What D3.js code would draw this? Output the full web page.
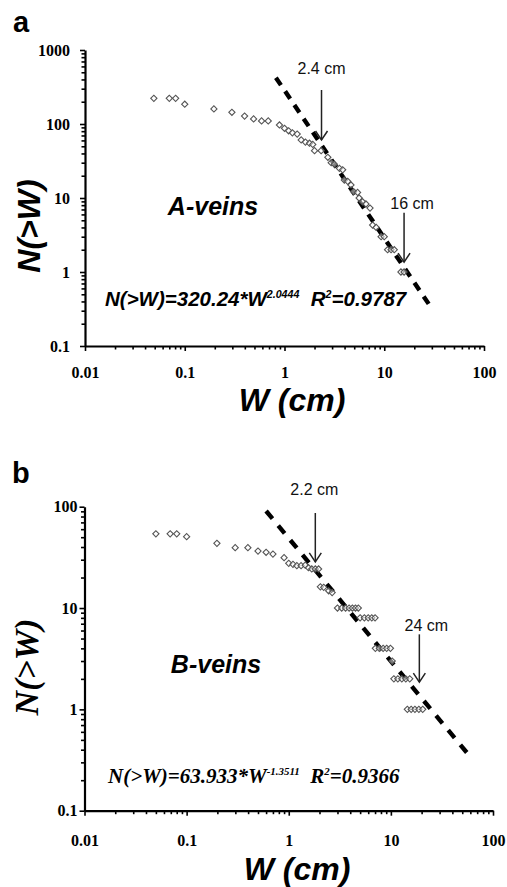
<!DOCTYPE html>
<html>
<head>
<meta charset="utf-8">
<script src="https://cdn.jsdelivr.net/npm/d3@7"></script>
<style>
  body { margin: 0; background: #fff; }
  .sans { font-family: 'Liberation Sans', Arial, sans-serif; }
  .serif { font-family: 'Liberation Serif', 'Times New Roman', serif; }
</style>
</head>
<body>
<div id="chart"></div>
<script>
// panel a: A-veins, cumulative count N(>W) against width W (cm)
const veinsA = [
  [0.049, 222], [0.07, 222], [0.081, 222], [0.1, 185], [0.196, 160],
  [0.297, 144], [0.398, 128], [0.49, 117], [0.589, 110], [0.687, 110],
  [0.89, 97], [1.0, 87.5], [1.1, 81], [1.2, 76], [1.34, 73], [1.47, 61],
  [1.62, 57], [1.78, 55], [1.92, 53], [2.0, 43.6], [2.33, 43.6],
  [2.72, 35.5], [2.94, 30], [3.16, 28.6], [3.55, 25.2], [3.83, 24],
  [3.98, 17.5], [4.3, 16.8], [4.64, 15], [4.93, 12.2], [5.4, 11.9],
  [5.6, 10], [6.05, 8.9], [6.55, 8.3], [7.2, 7.3], [7.65, 4.3], [8.3, 4],
  [9.3, 3], [10, 3], [10.8, 2], [11.7, 2], [12.6, 2], [14.7, 1], [15.8, 1]
]
// panel b: B-veins
const veinsB = [
  [0.05, 54], [0.069, 54], [0.08, 54], [0.1, 50.6], [0.198, 43.5],
  [0.299, 39.4], [0.398, 39.4], [0.5, 36.5], [0.6, 35.5], [0.7, 34.1],
  [0.9, 31.4], [1.0, 27.6], [1.1, 27], [1.2, 26.2], [1.32, 26.2],
  [1.45, 26.5], [1.56, 25], [1.68, 24.3], [1.82, 24.3], [1.96, 24.3],
  [2.04, 16.2], [2.2, 16], [2.46, 14.8], [2.66, 14.2],
  [3.0, 10], [3.3, 10], [3.6, 10], [3.9, 10], [4.2, 10], [4.5, 10], [4.8, 10],
  [5.0, 8], [5.5, 8], [6.0, 8], [6.5, 8], [7.0, 8],
  [7.05, 4], [7.7, 4], [8.4, 4], [9.1, 4], [9.9, 4], [10.3, 3],
  [10.7, 2], [11.7, 2], [12.8, 2], [14, 2], [15.3, 2],
  [14.5, 1], [15.8, 1], [17.2, 1], [18.8, 1], [20.5, 1]
]

// fitted power-law lines, end points as drawn
const fitA = [[0.82, 423], [29.3, 0.336]]
const fitB = [[0.6, 90.7], [60, 0.34]]

// arrows: [W, N at top, N at tip, label]
const arrowsA = [[2.35, 288, 60.8, '2.4 cm'], [15.8, 6.3, 1.36, '16 cm']]
const arrowsB = [[1.82, 86.7, 28.5, '2.2 cm'], [19, 5.5, 1.86, '24 cm']]

const xDomain = [0.01, 100]
const yDomainA = [0.1, 1000]
const yDomainB = [0.1, 100]

const svg = d3
  .select('#chart')
  .append('svg')
  .attr('width', 507)
  .attr('height', 887)

function isMajor(d) {
  const l = Math.log10(d)
  return Math.abs(l - Math.round(l)) < 1e-6
}

function drawPanel(p) {
  const g = svg.append('g')

  const x = d3.scaleLog().domain(xDomain).range(p.xRange)
  const y = d3.scaleLog().domain(p.yDomain).range(p.yRange)

  // dashed fit line
  const line = d3
    .line()
    .x(d => x(d[0]))
    .y(d => y(d[1]))
  g.append('path')
    .datum(p.fit)
    .attr('d', line)
    .attr('fill', 'none')
    .attr('stroke', '#000')
    .attr('stroke-width', 4.4)
    .attr('stroke-dasharray', p.dash)

  // open diamonds
  g.selectAll('.pt')
    .data(p.points)
    .enter()
    .append('rect')
    .attr('class', 'pt')
    .attr('x', -2.2)
    .attr('y', -2.2)
    .attr('width', 4.4)
    .attr('height', 4.4)
    .attr('transform', d => 'translate(' + x(d[0]) + ',' + y(d[1]) + ') rotate(45)')
    .attr('fill', '#fff')
    .attr('fill-opacity', 0.5)
    .attr('stroke', '#555')
    .attr('stroke-width', 1.1)

  // axes
  const xAxis = d3
    .axisBottom(x)
    .tickValues(x.ticks())
    .tickFormat(d => (isMajor(d) ? d3.format('~g')(d) : ''))
    .tickSizeInner(4)
    .tickSizeOuter(0)
    .tickPadding(p.xPad)
  const xg = g
    .append('g')
    .attr('transform', 'translate(0,' + p.yRange[0] + ')')
    .call(xAxis)

  const yAxis = d3
    .axisLeft(y)
    .tickValues(y.ticks())
    .tickFormat(d => (isMajor(d) ? d3.format('~g')(d) : ''))
    .tickSizeInner(4)
    .tickSizeOuter(0)
    .tickPadding(p.yPad)
  const yg = g
    .append('g')
    .attr('transform', 'translate(' + p.xRange[0] + ',0)')
    .call(yAxis)

  ;[xg, yg].forEach(a => {
    a.select('.domain').attr('stroke-width', 2.2).attr('stroke', '#000')
    a.selectAll('.tick line').attr('stroke-width', 1.6).attr('stroke', '#000')
    a.selectAll('.tick text')
      .attr('class', 'serif')
      .attr('font-size', 16)
      .attr('font-weight', 'bold')
      .attr('fill', '#000')
  })
  xg.selectAll('.tick line').attr('y2', d => (isMajor(d) ? 5 : 3.5))
  yg.selectAll('.tick line').attr('x2', d => (isMajor(d) ? -5 : -3.5))

  // arrows and their labels
  p.arrows.forEach((a, i) => {
    const ax = x(a[0])
    const y1 = y(a[1])
    const y2 = y(a[2])
    g.append('line')
      .attr('x1', ax).attr('x2', ax)
      .attr('y1', y1).attr('y2', y2)
      .attr('stroke', '#222').attr('stroke-width', 1.5)
    g.append('path')
      .attr('d', 'M' + (ax - 6) + ',' + (y2 - 9) + 'L' + ax + ',' + y2 + 'L' + (ax + 6) + ',' + (y2 - 9))
      .attr('fill', 'none')
      .attr('stroke', '#222')
      .attr('stroke-width', 1.5)
    g.append('text')
      .attr('class', 'sans')
      .attr('x', ax + p.labelOffsets[i][0])
      .attr('y', y1 + p.labelOffsets[i][1])
      .attr('text-anchor', 'middle')
      .attr('font-size', 16)
      .attr('fill', '#111')
      .text(a[3])
  })

  // panel letter
  g.append('text')
    .attr('class', 'sans')
    .attr('x', p.letterPos[0])
    .attr('y', p.letterPos[1])
    .attr('font-size', 29)
    .attr('font-weight', 'bold')
    .text(p.letter)

  // vein type
  g.append('text')
    .attr('class', 'sans')
    .attr('x', p.namePos[0])
    .attr('y', p.namePos[1])
    .attr('text-anchor', 'middle')
    .attr('font-size', 25)
    .attr('font-weight', 'bold')
    .attr('font-style', 'italic')
    .text(p.name)

  // formula
  const f = g.append('text')
    .attr('class', p.formulaFont)
    .attr('x', p.formulaPos[0])
    .attr('y', p.formulaPos[1])
    .attr('font-size', p.formulaSize)
    .attr('font-weight', 'bold')
    .attr('font-style', 'italic')
  f.append('tspan').text(p.formula[0])
  f.append('tspan').attr('font-size', p.formulaSize * 0.52).attr('dy', -8).text(p.formula[1])
  f.append('tspan').attr('dy', 8).text('\u00a0\u00a0R')
  f.append('tspan').attr('font-size', p.formulaSize * 0.52).attr('dy', -8).text('2')
  f.append('tspan').attr('dy', 8).text(p.formula[2])

  // axis titles
  g.append('text')
    .attr('class', p.yTitleFont)
    .attr('transform', 'translate(' + p.yTitlePos[0] + ',' + p.yTitlePos[1] + ') rotate(-90)')
    .attr('text-anchor', 'middle')
    .attr('font-size', p.yTitleSize)
    .attr('font-weight', 'bold')
    .attr('font-style', 'italic')
    .text('N(>W)')

  g.append('text')
    .attr('class', 'sans')
    .attr('x', p.xTitlePos[0])
    .attr('y', p.xTitlePos[1])
    .attr('text-anchor', 'middle')
    .attr('font-size', 32)
    .attr('font-weight', 'bold')
    .attr('font-style', 'italic')
    .text('W (cm)')
}

drawPanel({
  letter: 'a',
  letterPos: [13, 32],
  name: 'A-veins',
  namePos: [213, 215],
  points: veinsA,
  fit: fitA,
  dash: '9,7.5',
  arrows: arrowsA,
  labelOffsets: [[0, -16], [8, -4]],
  xRange: [85, 484],
  yRange: [346, 50],
  yDomain: yDomainA,
  xPad: 17,
  yPad: 11,
  formula: ['N(>W)=320.24*W', '2.0444', '=0.9787'],
  formulaFont: 'sans',
  formulaSize: 20.5,
  formulaPos: [105, 306],
  yTitleFont: 'sans',
  yTitleSize: 32,
  yTitlePos: [40, 226],
  xTitlePos: [292, 411]
})

drawPanel({
  letter: 'b',
  letterPos: [12, 483],
  name: 'B-veins',
  namePos: [216, 673],
  points: veinsB,
  fit: fitB,
  dash: '10,9',
  arrows: arrowsB,
  labelOffsets: [[-1, -18], [7, -3]],
  xRange: [84.5, 493],
  yRange: [810.7, 506.7],
  yDomain: yDomainB,
  xPad: 20,
  yPad: 3,
  formula: ['N(>W)=63.933*W', '-1.3511', '=0.9366'],
  formulaFont: 'serif',
  formulaSize: 21,
  formulaPos: [108, 783],
  yTitleFont: 'serif',
  yTitleSize: 34,
  yTitlePos: [38, 667],
  xTitlePos: [297, 880]
})
</script>
</body>
</html>
